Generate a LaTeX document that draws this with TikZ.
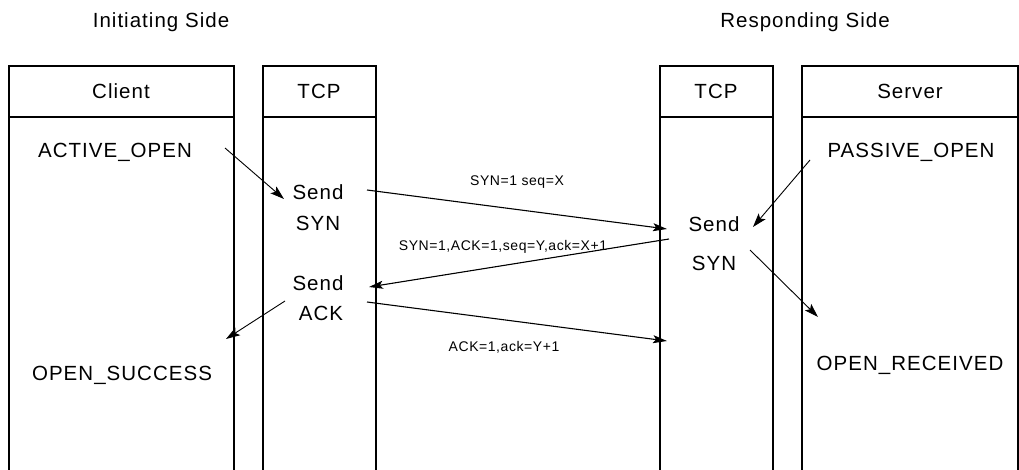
\documentclass[tikz,border=0pt]{standalone}
\usepackage{fontspec}
\setmainfont{Liberation Sans}
\usetikzlibrary{arrows.meta}
\begin{document}
\begin{tikzpicture}[x=1pt,y=-1pt,
  col/.style={line width=1.4pt},
  lbl/.style={inner sep=0pt,font=\fontsize{20.5}{24}\selectfont\addfontfeature{LetterSpace=5}},
  msglbl/.style={inner sep=0pt,font=\fontsize{14}{16}\selectfont\addfontfeature{LetterSpace=4}},
  arr/.style={line width=0.9pt,-{Stealth[length=14pt,width=9pt,inset=3pt]}},
  msg/.style={line width=1.1pt,-{Stealth[length=14pt,width=8pt,inset=3pt]}}]
\useasboundingbox (0,0) rectangle (1019,470);
% columns
\foreach \a/\b in {9/234,263/376,660/773,802/1018}{
  \draw[col] (\a,471) -- (\a,66) -- (\b,66) -- (\b,471);
  \draw[col] (\a,117) -- (\b,117);
}
% titles
\node[lbl] (init) at (161,22) {Initiating Side};
\node[lbl] (resp) at (805,22) {Responding Side};
\node[lbl] (client) at (121,91) {Client};
\node[lbl] (tcpl) at (319,91) {TCP};
\node[lbl] (tcpr) at (716,91) {TCP};
\node[lbl] (server) at (910,91) {Server};
% left side texts
\node[lbl] (aopen) at (115,152) {ACTIVE\_OPEN};
\node[lbl] (sendl1) at (318,192) {Send};
\node[lbl] (synl) at (318,223) {SYN};
\node[lbl] (sendl2) at (318,283) {Send};
\node[lbl] (ackl) at (321,313) {ACK};
\node[lbl] (osucc) at (122,375) {OPEN\_SUCCESS};
% right side texts
\node[lbl] (popen) at (911,152) {PASSIVE\_OPEN};
\node[lbl] (sendr) at (714,224) {Send};
\node[lbl] (synr) at (714,263) {SYN};
\node[lbl] (orecv) at (910,365) {OPEN\_RECEIVED};
% message labels
\node[msglbl] (m1) at (517,182) {SYN=1 seq=X};
\node[msglbl] (m2) at (503,247) {SYN=1,ACK=1,seq=Y,ack=X+1};
\node[msglbl] (m3) at (504,347) {ACK=1,ack=Y+1};
% arrow end points
\coordinate (a1s) at (225,148); \coordinate (a1e) at (284,199);
\coordinate (a2s) at (810,160); \coordinate (a2e) at (753,227);
\coordinate (a3s) at (750,250); \coordinate (a3e) at (818,317);
\coordinate (a4s) at (285,301); \coordinate (a4e) at (226,339);
\coordinate (s1) at (367,190); \coordinate (e1) at (667,229);
\coordinate (s2) at (669,239); \coordinate (e2) at (369,287);
\coordinate (s3) at (367,302); \coordinate (e3) at (667,341);
\draw[arr] (a1s) -- (a1e);
\draw[arr] (a2s) -- (a2e);
\draw[arr] (a3s) -- (a3e);
\draw[arr] (a4s) -- (a4e);
\draw[msg] (s1) -- (e1);
\draw[msg] (s2) -- (e2);
\draw[msg] (s3) -- (e3);
\end{tikzpicture}
\end{document}
